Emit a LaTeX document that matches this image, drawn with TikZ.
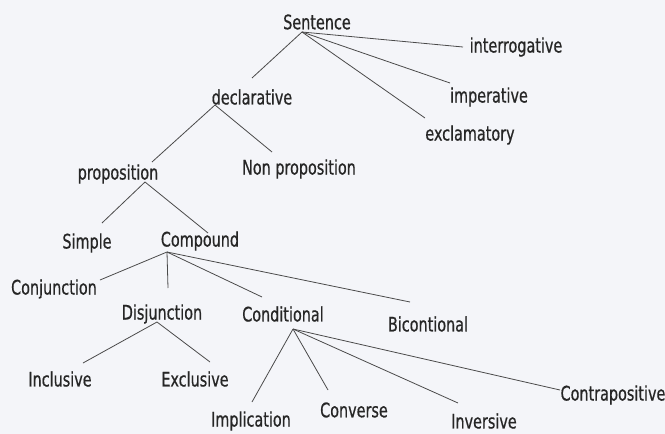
\documentclass[tikz,border=0pt]{standalone}
\usepackage{fontspec}
\setmainfont[FakeStretch=0.8,FakeBold=0.6]{DejaVu Sans Condensed}
\definecolor{bg}{HTML}{F4F5F9}
\definecolor{ink}{HTML}{262626}
\definecolor{wire}{HTML}{4A4A4A}
\begin{document}
\begin{tikzpicture}[x=1pt,y=-1pt,
  lbl/.style={text=ink,inner sep=0pt,font=\fontsize{20}{22}\selectfont},
  wire/.style={draw=wire,line width=0.8pt}]
\fill[bg] (0,0) rectangle (665,434);
\useasboundingbox (0,0) rectangle (665,434);
% nodes
\node[lbl] (sent)    at (317,22)  {Sentence};
\node[lbl] (inter)   at (516,47)  {interrogative};
\node[lbl] (imper)   at (489,97)  {imperative};
\node[lbl] (excl)    at (470,135) {exclamatory};
\node[lbl] (decl)    at (252,97)  {declarative};
\node[lbl] (nonprop) at (299,169) {Non proposition};
\node[lbl] (prop)    at (118,174) {proposition};
\node[lbl] (simple)  at (87,243)  {Simple};
\node[lbl] (comp)    at (200,241) {Compound};
\node[lbl] (conj)    at (54,289)  {Conjunction};
\node[lbl] (disj)    at (162,314) {Disjunction};
\node[lbl] (cond)    at (283,314) {Conditional};
\node[lbl] (bicond)  at (428,324) {Bicontional};
\node[lbl] (incl)    at (60,379)  {Inclusive};
\node[lbl] (exclu)   at (195,379) {Exclusive};
\node[lbl] (impl)    at (251,421) {Implication};
\node[lbl] (conv)    at (354,410) {Converse};
\node[lbl] (inv)     at (484,421) {Inversive};
\node[lbl] (contra)  at (613,395) {Contrapositive};
% hub points just below parent texts
\coordinate (sentH) at (302,32);
\coordinate (declH) at (215,105);
\coordinate (propH) at (145,182);
\coordinate (compH) at (167,252);
\coordinate (disjH) at (157,322);
\coordinate (condH) at (293,329);
% connector ends near child texts
\coordinate (declE)    at (252,78);
\coordinate (interE)   at (463,47);
\coordinate (imperE)   at (450,83);
\coordinate (exclE)    at (425,118);
\coordinate (propE)    at (152,162);
\coordinate (nonpropE) at (272,152);
\coordinate (simpleE)  at (102,223);
\coordinate (compE)    at (208,233);
\coordinate (conjE)    at (100,280);
\coordinate (disjE)    at (168,288);
\coordinate (condE)    at (262,297);
\coordinate (bicondE)  at (410,302);
\coordinate (inclE)    at (83,363);
\coordinate (excluE)   at (210,362);
\coordinate (implE)    at (252,402);
\coordinate (convE)    at (328,390);
\coordinate (invE)     at (458,403);
\coordinate (contraE)  at (560,390);
% connectors
\draw[wire] (sentH) -- (declE);
\draw[wire] (sentH) -- (interE);
\draw[wire] (sentH) -- (imperE);
\draw[wire] (sentH) -- (exclE);
\draw[wire] (declH) -- (propE);
\draw[wire] (declH) -- (nonpropE);
\draw[wire] (propH) -- (simpleE);
\draw[wire] (propH) -- (compE);
\draw[wire] (compH) -- (conjE);
\draw[wire] (compH) -- (disjE);
\draw[wire] (compH) -- (condE);
\draw[wire] (compH) -- (bicondE);
\draw[wire] (disjH) -- (inclE);
\draw[wire] (disjH) -- (excluE);
\draw[wire] (condH) -- (implE);
\draw[wire] (condH) -- (convE);
\draw[wire] (condH) -- (invE);
\draw[wire] (condH) -- (contraE);
\end{tikzpicture}
\end{document}
